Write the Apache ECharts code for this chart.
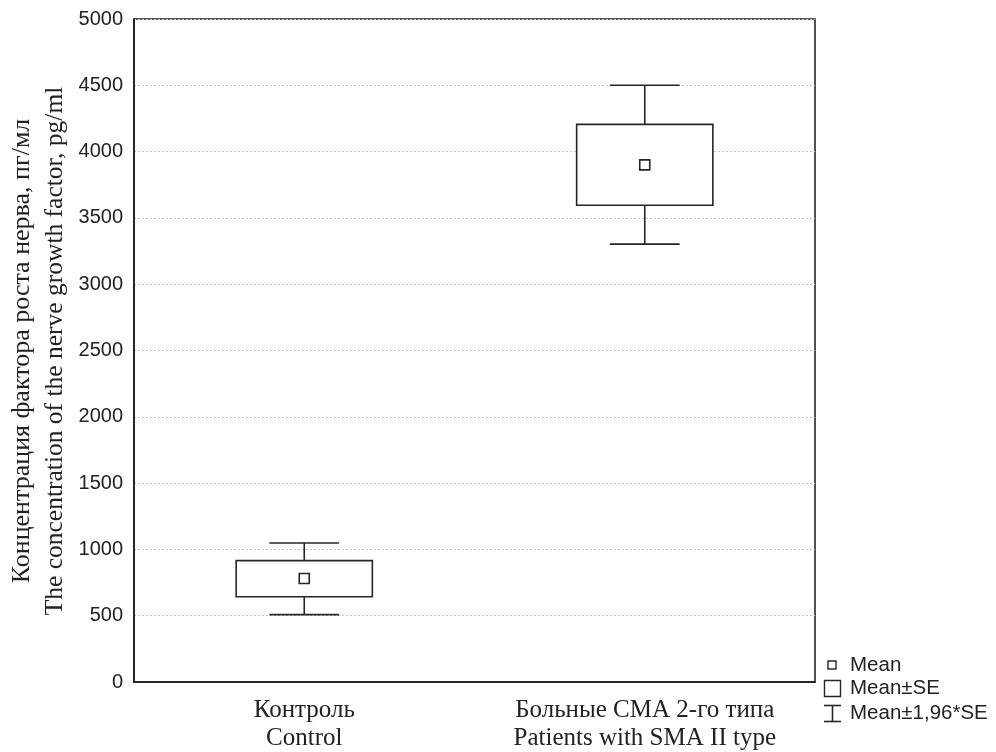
<!DOCTYPE html>
<html><head><meta charset="utf-8">
<script src="https://cdn.jsdelivr.net/npm/echarts@6/dist/echarts.min.js"></script>
<style>html,body{margin:0;padding:0;background:#fff}#c{width:996px;height:752px}</style>
</head><body><div id="c"></div>
<script>
const categories = ['Контроль\nControl', 'Больные СМА 2-го типа\nPatients with SMA II type'];
const means = [780, 3900];
const seLow = [643, 3595];
const seHigh = [915, 4205];
const ciLow = [508, 3302];
const ciHigh = [1048, 4500];
const yTicks = [0, 500, 1000, 1500, 2000, 2500, 3000, 3500, 4000, 4500, 5000];
const yTitle1 = 'Концентрация фактора роста нерва, пг/мл';
const yTitle2 = 'The concentration of the nerve growth factor, pg/ml';
const legendLabels = ['Mean', 'Mean±SE', 'Mean±1,96*SE'];

const chart = echarts.init(document.getElementById('c'), null, {renderer: 'canvas'});
const lineColor = '#262626';
const boxData = categories.map((c, i) => [i, seLow[i], seHigh[i], ciLow[i], ciHigh[i]]);
const meanData = categories.map((c, i) => [i, means[i]]);

const option = {
  animation: false,
  backgroundColor: '#fff',
  grid: {left: 134, right: 181, top: 19, bottom: 70, show: true, borderColor: lineColor, borderWidth: 1.6, backgroundColor: 'transparent'},
  xAxis: {
    type: 'category', data: categories, boundaryGap: true,
    axisLine: {show: true, lineStyle: {color: lineColor, width: 2}},
    axisTick: {show: false},
    axisLabel: {fontFamily: 'Liberation Serif', fontSize: 25, color: '#222', lineHeight: 28, margin: 14, interval: 0}
  },
  yAxis: {
    type: 'value', min: 0, max: 5000, interval: 500,
    axisLine: {show: true, lineStyle: {color: lineColor, width: 2}},
    axisTick: {show: false},
    axisLabel: {fontFamily: 'Liberation Sans', fontSize: 20, color: '#222', margin: 11,
      formatter: v => yTicks.includes(v) ? String(v) : ''},
    splitLine: {show: true, lineStyle: {color: '#c4c4c4', type: [2, 2], width: 1}}
  },
  series: [
    {
      type: 'custom', data: boxData, z: 3,
      renderItem: function (params, api) {
        const x = api.value(0);
        const band = api.size([1, 0])[0];
        const bw = band * 0.4, cw = band * 0.205;
        const pLo = api.coord([x, api.value(1)]);
        const pHi = api.coord([x, api.value(2)]);
        const wLo = api.coord([x, api.value(3)]);
        const wHi = api.coord([x, api.value(4)]);
        const cx = pLo[0];
        const st = {stroke: lineColor, lineWidth: 1.6, fill: null};
        return {type: 'group', children: [
          {type: 'line', shape: {x1: cx, y1: wHi[1], x2: cx, y2: pHi[1]}, style: st},
          {type: 'line', shape: {x1: cx, y1: pLo[1], x2: cx, y2: wLo[1]}, style: st},
          {type: 'line', shape: {x1: cx - cw / 2, y1: wHi[1], x2: cx + cw / 2, y2: wHi[1]}, style: st},
          {type: 'line', shape: {x1: cx - cw / 2, y1: wLo[1], x2: cx + cw / 2, y2: wLo[1]}, style: st},
          {type: 'rect', shape: {x: cx - bw / 2, y: pHi[1], width: bw, height: pLo[1] - pHi[1]}, style: {stroke: lineColor, lineWidth: 1.6, fill: '#fff'}}
        ]};
      }
    },
    {
      type: 'custom', data: meanData, z: 4,
      renderItem: function (params, api) {
        const p = api.coord([api.value(0), api.value(1)]);
        return {type: 'rect', shape: {x: p[0] - 5, y: p[1] - 5, width: 10, height: 10},
          style: {stroke: lineColor, lineWidth: 1.6, fill: '#fff'}};
      }
    }
  ],
  graphic: [
    {type: 'text', x: 22, y: 351, rotation: Math.PI / 2,
      style: {text: yTitle1, font: '26px "Liberation Serif"', fill: '#222', textAlign: 'center', textVerticalAlign: 'middle'}},
    {type: 'text', x: 55, y: 351, rotation: Math.PI / 2,
      style: {text: yTitle2, font: '25.5px "Liberation Serif"', fill: '#222', textAlign: 'center', textVerticalAlign: 'middle'}},
    {type: 'rect', shape: {x: 828, y: 661, width: 8, height: 8}, style: {stroke: lineColor, lineWidth: 1.4, fill: '#fff'}},
    {type: 'rect', shape: {x: 824.5, y: 680.5, width: 16, height: 16}, style: {stroke: lineColor, lineWidth: 1.4, fill: '#fff'}},
    {type: 'line', shape: {x1: 824, y1: 705.5, x2: 841, y2: 705.5}, style: {stroke: lineColor, lineWidth: 1.6}},
    {type: 'line', shape: {x1: 832.5, y1: 705.5, x2: 832.5, y2: 721.5}, style: {stroke: lineColor, lineWidth: 1.6}},
    {type: 'line', shape: {x1: 824, y1: 721.5, x2: 841, y2: 721.5}, style: {stroke: lineColor, lineWidth: 1.6}},
    {type: 'text', x: 850, y: 665, style: {text: legendLabels[0], font: '20.5px "Liberation Sans"', fill: '#222', textVerticalAlign: 'middle'}},
    {type: 'text', x: 850, y: 688, style: {text: legendLabels[1], font: '20.5px "Liberation Sans"', fill: '#222', textVerticalAlign: 'middle'}},
    {type: 'text', x: 850, y: 713, style: {text: legendLabels[2], font: '20.5px "Liberation Sans"', fill: '#222', textVerticalAlign: 'middle'}}
  ]
};
chart.setOption(option);
</script>
</body></html>
